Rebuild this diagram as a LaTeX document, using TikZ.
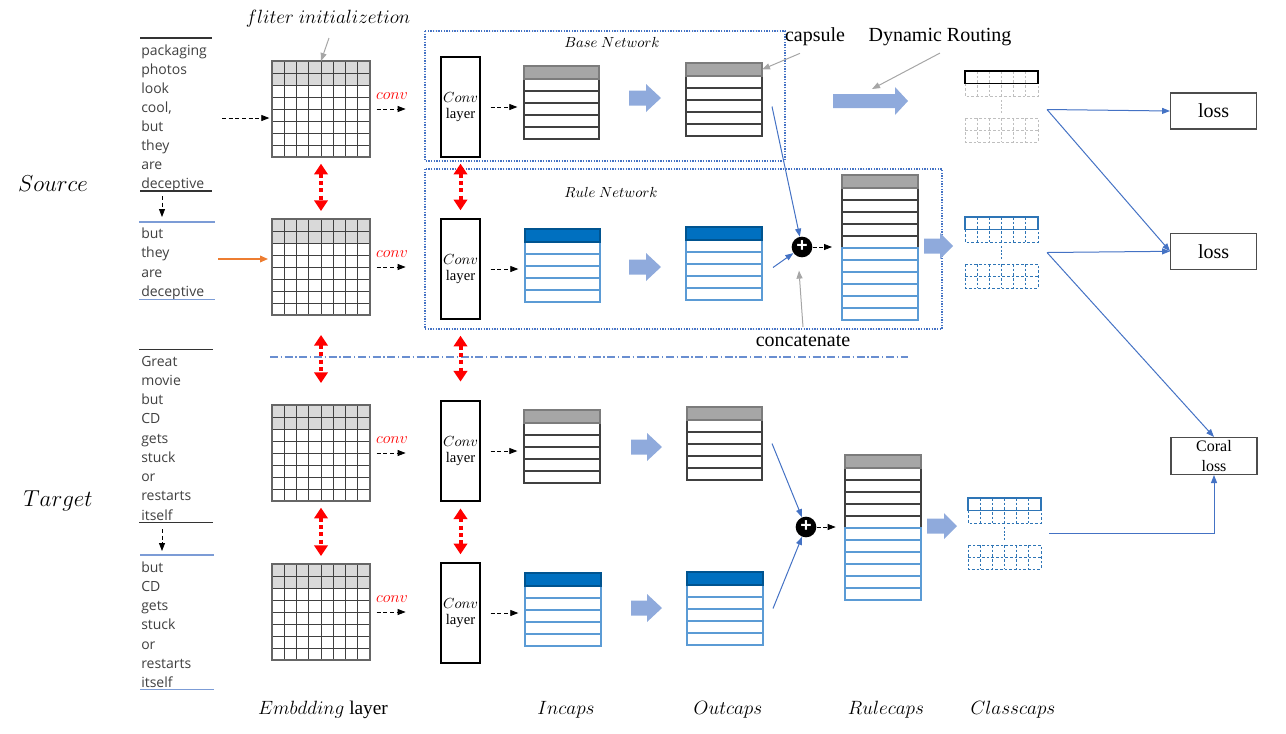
\documentclass[tikz,border=0pt]{standalone}
\usepackage{fontspec}
\setmainfont{Liberation Serif}
\newfontfamily\wordfont{Open Sans}
\usetikzlibrary{arrows.meta}
\usetikzlibrary{calc}

\definecolor{capgray}{RGB}{166,166,166}
\definecolor{embgray}{RGB}{217,217,217}
\definecolor{capblue}{RGB}{0,112,192}
\definecolor{rowblue}{RGB}{91,155,213}
\definecolor{dashblue}{RGB}{46,117,182}
\definecolor{dashgray}{RGB}{191,191,191}
\definecolor{linkblue}{RGB}{68,114,196}
\definecolor{fatblue}{RGB}{143,170,220}
\definecolor{wordgray}{RGB}{64,64,64}
\definecolor{notegray}{RGB}{166,166,166}
\definecolor{orangelink}{RGB}{237,125,49}

\tikzset{
  gridline/.style={draw=black!75, line width=0.6pt},
  gridframe/.style={draw=black!60, line width=0.8pt, inner sep=0pt, outer sep=0pt, minimum width=73.5pt, minimum height=72pt},
  capsframe/.style={inner sep=0pt, outer sep=0pt, minimum height=54.75pt},
  rowgray/.style={draw=black!75, line width=0.8pt},
  rowblue/.style={draw=rowblue, line width=0.8pt},
  cellline/.style={line width=0.6pt, dash pattern=on 2pt off 1.5pt},
  convbox/.style={draw=black, line width=1.1pt, inner sep=0pt, minimum width=29.25pt, minimum height=75pt, align=center, font=\fontsize{11}{12}\selectfont},
  plusnode/.style={circle, fill=black, inner sep=0pt, minimum size=15.5pt, text=white, font=\wordfont\bfseries\fontsize{15}{15}\selectfont},
  lossbox/.style={draw=black!70, line width=1pt, minimum width=64.5pt, minimum height=27pt, font=\fontsize{15}{16}\selectfont},
  coralbox/.style={draw=black!70, line width=1pt, minimum width=64.5pt, minimum height=27.5pt, align=center, inner sep=0pt, font=\fontsize{12}{15.5}\selectfont},
  word/.style={anchor=base west, inner sep=0pt, text=wordgray, font=\wordfont\fontsize{10.5}{12}\selectfont},
  notetext/.style={inner sep=0.75pt, font=\fontsize{15}{16}\selectfont},
  netlabel/.style={inner sep=0.75pt, font=\fontsize{11}{12}\selectfont},
  convlbl/.style={inner sep=0.75pt, text=red, font=\fontsize{12}{12}\selectfont},
  sidelabel/.style={inner sep=0.75pt, font=\fontsize{16.5}{17}\selectfont},
  axislabel/.style={inner sep=0.75pt, font=\fontsize{14.5}{15}\selectfont},
  notearrow/.style={draw=notegray, line width=0.75pt, -{Triangle[length=6pt,width=4.5pt]}},
  linkarrow/.style={draw=linkblue, line width=0.75pt, -{Triangle[length=6pt,width=4.5pt]}},
  dasharrow/.style={draw=black, line width=0.6pt, dash pattern=on 3pt off 2pt, -{Triangle[length=6pt,width=4.5pt]}},
  redlink/.style={draw=red, line width=3pt, dash pattern=on 3pt off 2.5pt, {Triangle[length=8pt,width=10pt]}-{Triangle[length=8pt,width=10pt]}},
  orangearrow/.style={draw=orangelink, line width=1.1pt, -{Triangle[length=6pt,width=5pt]}},
  netbox/.style={draw=linkblue, line width=1pt, dash pattern=on 1pt off 1pt},
  splitline/.style={draw=linkblue!80, line width=0.8pt, dash pattern=on 6pt off 2pt on 1pt off 2pt},
  blackrule/.style={draw=black!80, line width=1.1pt},
  bluerule/.style={draw=linkblue!70, line width=1.1pt}
}

% embedding matrix: name, left, top
\newcommand{\embgrid}[3]{%
  \fill[embgray] (#2,#3) rectangle (#2+98,#3+24);
  \foreach \ci in {1,...,7}
    \draw[gridline] (#2+\ci*12.25,#3) -- (#2+\ci*12.25,#3+96);
  \foreach \ri in {1,...,7}
    \draw[gridline] (#2,#3+\ri*12) -- (#2+98,#3+\ri*12);
  \node[gridframe, anchor=north west] (#1) at (#2,#3) {};
}
% in/out capsules: name, left, top, width, head colour, row style
\newcommand{\capsblock}[6]{%
  \foreach \ri in {0,...,4}
    \draw[#6] (#2,#3+13+\ri*12) rectangle (#2+#4,#3+25+\ri*12);
  \fill[#5] (#2,#3) rectangle (#2+#4,#3+13);
  \draw[#5!75!black, line width=0.8pt] (#2,#3) rectangle (#2+#4,#3+13);
  \node[capsframe, anchor=north west, minimum width=#4*0.75pt] (#1) at (#2,#3) {};
}
% rule capsules: name, left, top
\newcommand{\rulecaps}[3]{%
  \foreach \ri in {0,...,4}
    \draw[rowgray] (#2,#3+13+\ri*12) rectangle (#2+76,#3+25+\ri*12);
  \foreach \ri in {5,...,10}
    \draw[rowblue] (#2,#3+13+\ri*12) rectangle (#2+76,#3+25+\ri*12);
  \fill[capgray] (#2,#3) rectangle (#2+76,#3+13);
  \draw[capgray!75!black, line width=0.8pt] (#2,#3) rectangle (#2+76,#3+13);
  \node[capsframe, anchor=north west, minimum width=57pt, minimum height=108.75pt] (#1) at (#2,#3) {};
}
% class capsules: name, left, top, cell colour, head colour
\newcommand{\classcaps}[5]{%
  \foreach \ci in {1,...,5} {
    \draw[#4, cellline] (#2+\ci*12.17,#3) -- (#2+\ci*12.17,#3+25);
    \draw[#4, cellline] (#2+\ci*12.17,#3+47) -- (#2+\ci*12.17,#3+71);
  }
  \draw[#4, cellline] (#2,#3+12.5) rectangle (#2+73,#3+25);
  \draw[#4, cellline] (#2,#3+47) rectangle (#2+73,#3+71);
  \draw[#4, cellline] (#2,#3+59) -- (#2+73,#3+59);
  \draw[#4, line width=1.4pt, dash pattern=on 1.4pt off 1.4pt] (#2+36.5,#3+29) -- (#2+36.5,#3+42);
  \draw[#5, line width=1.1pt] (#2,#3) rectangle (#2+73,#3+12.5);
  \node[capsframe, anchor=north west, minimum width=54.75pt, minimum height=53.25pt] (#1) at (#2,#3) {};
}
% block arrow: x from, x to, y, half body, half head, head length
\newcommand{\fatarrow}[6]{%
  \fill[fatblue] (#1,#3-#4) -- (#2-#6,#3-#4) -- (#2-#6,#3-#5) -- (#2,#3)
    -- (#2-#6,#3+#5) -- (#2-#6,#3+#4) -- (#1,#3+#4) -- cycle;
}

\begin{document}
\begin{tikzpicture}[x=0.75pt,y=0.75pt,yscale=-1,xscale=1]
\useasboundingbox (0,0) rectangle (1286,733);

%Network frames
\draw[netbox] (425,31) rectangle (785,161);
\draw[netbox] (425,169) rectangle (942,329);
\node[netlabel] (baseLbl) at (612,42) {$Base\ Network$};
\node[netlabel] (ruleLbl) at (611,192) {$Rule\ Network$};

%Source / target split
\draw[splitline] (270,357) -- (908,357);

%Embedding matrices
\embgrid{g1}{272}{61}
\embgrid{g2}{272}{219}
\embgrid{g3}{272}{405}
\embgrid{g4}{272}{564}

%Conv layers
\node[convbox] (cv1) at (460.5,107) {$Conv$\\layer};
\node[convbox] (cv2) at (460.5,269) {$Conv$\\layer};
\node[convbox] (cv3) at (460.5,451) {$Conv$\\layer};
\node[convbox] (cv4) at (460.5,613) {$Conv$\\layer};

%Incaps and outcaps
\capsblock{inB}{524}{66}{75}{capgray}{rowgray}
\capsblock{outB}{686}{63}{76}{capgray}{rowgray}
\capsblock{inR}{525}{229}{75}{capblue}{rowblue}
\capsblock{outR}{686}{227}{76}{capblue}{rowblue}
\capsblock{inTB}{524}{410}{76}{capgray}{rowgray}
\capsblock{outTB}{687}{407}{75}{capgray}{rowgray}
\capsblock{inTR}{525}{573}{76}{capblue}{rowblue}
\capsblock{outTR}{687}{572}{76}{capblue}{rowblue}

%Rulecaps
\rulecaps{ruleS}{842}{175}
\rulecaps{ruleT}{845}{455}

%Classcaps
\classcaps{clsB}{965}{71}{dashgray}{black}
\classcaps{clsR}{965}{217}{dashblue}{dashblue}
\classcaps{clsT}{968}{498}{dashblue}{dashblue}

%Block arrows
\fatarrow{629}{661}{98}{7.5}{14}{15}
\fatarrow{629}{661}{267}{7.5}{14}{15}
\fatarrow{631}{662}{447}{7.5}{14}{15}
\fatarrow{631}{662}{608}{7.5}{14}{15}
\fatarrow{833}{908}{101}{7}{14}{13}
\fatarrow{924}{953}{246}{7.5}{13}{13}
\fatarrow{927}{957}{526}{7.5}{13}{13}

%Concatenation
\node[plusnode] (plusS) at (802,247) {+};
\node[plusnode] (plusT) at (806,527) {+};
\draw[linkarrow] ($(outB.east)+(10,7)$) -- (plusS);
\draw[linkarrow] ($(outR.east)+(11,4)$) -- (plusS);
\draw[linkarrow] ($(outTB.east)+(10,0)$) -- (plusT);
\draw[linkarrow] ($(outTR.east)+(10,0)$) -- (plusT);
\draw[dasharrow, shorten >=7.5pt] (plusS) -- (plusS -| ruleS.west);
\draw[dasharrow, shorten >=7pt] (plusT) -- (plusT -| ruleT.west);

%Losses
\node[lossbox] (lossB) at (1213.7,111) {loss};
\node[lossbox] (lossR) at (1213.7,251.3) {loss};
\node[coralbox] (coral) at (1214,456) {Coral\\loss};
\coordinate (clsBo) at ($(clsB.east)+(9,3)$);
\coordinate (clsRo) at ($(clsR.east)+(9,0)$);
\coordinate (clsTo) at ($(clsT.east)+(8,0)$);
\draw[linkarrow] (clsBo) -- (lossB.west);
\draw[linkarrow] (clsBo) -- (lossR.west);
\draw[linkarrow] (clsRo) -- (lossR.west);
\draw[linkarrow] (clsRo) -- (coral.north);
\draw[linkarrow] (clsTo) -| (coral.south);

%Shared weights
\draw[redlink, shorten <=5pt, shorten >=6pt] (g1.south) -- (g2.north);
\draw[redlink, shorten <=15pt, shorten >=16.5pt] (g2.south) -- (g3.north);
\draw[redlink, shorten <=5pt, shorten >=6pt] (g3.south) -- (g4.north);
\draw[redlink, shorten <=4.5pt, shorten >=6pt] (cv1.south) -- (cv2.north);
\draw[redlink, shorten <=12pt, shorten >=14pt] (cv2.south) -- (cv3.north);
\draw[redlink, shorten <=5pt, shorten >=6pt] (cv3.south) -- (cv4.north);

%Convolutions
\draw[dasharrow, shorten <=5pt, shorten >=26pt] (g1.east) -- (g1.east -| cv1.west);
\draw[dasharrow, shorten <=5pt, shorten >=26pt] (g2.east) -- (g2.east -| cv2.west);
\draw[dasharrow, shorten <=5pt, shorten >=26pt] (g3.east) -- (g3.east -| cv3.west);
\draw[dasharrow, shorten <=5pt, shorten >=26pt] (g4.east) -- (g4.east -| cv4.west);
\node[convlbl, above=6pt] (cvl1) at ($(g1.east)+(22,0)$) {$conv$};
\node[convlbl, above=6pt] (cvl2) at ($(g2.east)+(22,0)$) {$conv$};
\node[convlbl, above=6pt] (cvl3) at ($(g3.east)+(22,0)$) {$conv$};
\node[convlbl, above=6pt] (cvl4) at ($(g4.east)+(22,0)$) {$conv$};
\draw[dasharrow, shorten <=7.5pt, shorten >=5pt] (cv1.east) -- (cv1.east -| inB.west);
\draw[dasharrow, shorten <=7.5pt, shorten >=5pt] (cv2.east) -- (cv2.east -| inR.west);
\draw[dasharrow, shorten <=7.5pt, shorten >=5pt] (cv3.east) -- (cv3.east -| inTB.west);
\draw[dasharrow, shorten <=7.5pt, shorten >=5pt] (cv4.east) -- (cv4.east -| inTR.west);

%Sentences
\foreach \w [count=\i from 0] in {packaging,photos,look,{cool,},but,they,are,deceptive}
  \node[word] (srcA\i) at (141,55+19.05*\i) {\w};
\foreach \w [count=\i from 0] in {but,they,are,deceptive}
  \node[word] (srcB\i) at (141,238.5+19.3*\i) {\w};
\foreach \w [count=\i from 0] in {Great,movie,but,CD,gets,stuck,or,restarts,itself}
  \node[word] (tgtA\i) at (141,366+19.25*\i) {\w};
\foreach \w [count=\i from 0] in {but,CD,gets,stuck,or,restarts,itself}
  \node[word] (tgtB\i) at (141,572+19.27*\i) {\w};
\draw[blackrule] (140,38) -- (212,38);
\draw[blackrule] (140,191) -- (212,191);
\draw[bluerule] (139,222) -- (215,222);
\draw[bluerule] (139,299.5) -- (215,299.5);
\draw[blackrule] (139,349.5) -- (213,349.5);
\draw[blackrule] (139,522.5) -- (213,522.5);
\draw[bluerule] (140,555) -- (214,555);
\draw[bluerule] (140,689.5) -- (214,689.5);
\coordinate (srcCut) at (162,196);
\coordinate (srcRule) at (162,217);
\coordinate (tgtCut) at (162,529);
\coordinate (tgtRule) at (162,551);
\draw[dasharrow] (srcCut) -- (srcRule);
\draw[dasharrow] (tgtCut) -- (tgtRule);
\coordinate (srcIn) at (222,118);
\coordinate (ruleIn) at (218,259);
\draw[dasharrow, shorten >=2pt] (srcIn) -- ([yshift=6.75pt]g1.west);
\draw[orangearrow, shorten >=3pt] (ruleIn) -- ([yshift=-6pt]g2.west);

%Notes
\node[axislabel] (fliter) at (328,19) {$fliter\ initializetion$};
\draw[notearrow] (329,38) -- (g1.north);
\node[notetext] (capsule) at (815,37) {capsule};
\draw[notearrow] ($(capsule.south)+(-15,6)$) -- ($(outB.north east)+(0,6.5)$);
\node[notetext] (dynRt) at (940,37) {Dynamic Routing};
\coordinate (dynTip) at (872,89);
\draw[notearrow] ($(dynRt.south)+(0,6)$) -- (dynTip);
\node[notetext] (concat) at (803,341) {concatenate};
\draw[notearrow] ($(concat.north)+(0,-7)$) -- ($(plusS.south)+(-3,13)$);

%Domains and layers
\node[sidelabel] (srcLbl) at (53,184) {$Source$};
\node[sidelabel] (tgtLbl) at (58,501) {$Target$};
\node[axislabel] (embLbl) at (323,710) {$Embdding$ layer};
\node[axislabel] (inLbl) at (566,710) {$Incaps$};
\node[axislabel] (outLbl) at (728,710) {$Outcaps$};
\node[axislabel] (ruleCapLbl) at (886,710) {$Rulecaps$};
\node[axislabel] (clsLbl) at (1013,710) {$Classcaps$};

\end{tikzpicture}
\end{document}
